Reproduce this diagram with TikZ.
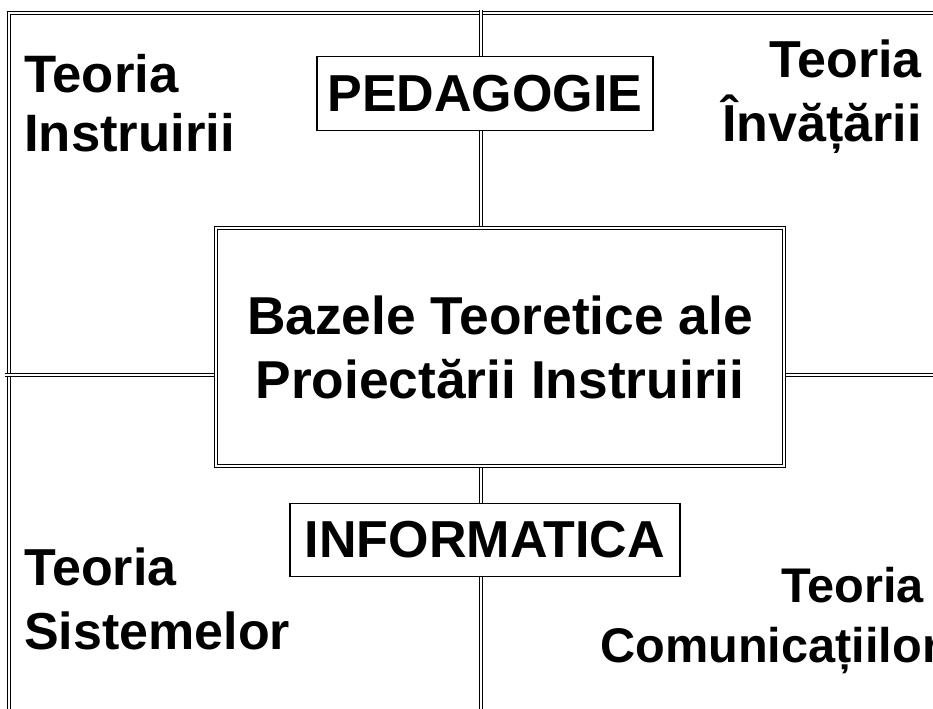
\documentclass[tikz,border=0pt]{standalone}
\usepackage{fontspec}
\setmainfont{Liberation Sans}
\usetikzlibrary{positioning,calc}

\begin{document}
\begin{tikzpicture}[x=0.75pt, y=-0.75pt,
    dbl/.style={draw, line width=0.8pt, double, double distance=1.2pt},
    big/.style={font=\fontsize{39}{47.5}\selectfont\bfseries},
    field/.style={big, draw, fill=white, line width=0.9pt, inner sep=0,
      minimum height=55pt},
    theory/.style={big, inner sep=0}]
  \clip (0,0) rectangle (933,708);
  % frame
  \coordinate (fnw) at (9,13);
  \coordinate (fse) at (960,730);
  \draw[dbl] (fnw) rectangle (fse);
  % centre box
  \node[dbl, font=\fontsize{40}{48}\selectfont\bfseries, align=center,
    minimum width=426pt, minimum height=178.5pt]
    (core) at (500,347) {Bazele Teoretice ale\\Proiectării Instruirii};
  % dividers
  \coordinate (top) at (481,10);
  \coordinate (bottom) at (481,730);
  \coordinate (left) at (5,375);
  \coordinate (right) at (960,375);
  \draw[dbl, shorten >=1.4pt] (top) -- (top |- core.north);
  \draw[dbl, shorten >=1.4pt] (bottom) -- (bottom |- core.south);
  \draw[dbl, shorten >=1.4pt] (left) -- (left -| core.west);
  \draw[dbl, shorten >=1.4pt] (right) -- (right -| core.east);
  % fields
  \node[field, minimum width=252pt] (ped) at (485,93.5) {PEDAGOGIE};
  \node[field, minimum width=292.5pt] (inf) at (485,540) {INFORMATICA};
  % theories
  \node[theory, font=\fontsize{39.5}{44}\selectfont\bfseries,
    anchor=north west, align=left] (instr) at (24,54) {Teoria\\Instruirii};
  \node[theory, anchor=north east, align=right] (inv) at (922,40)
    {Teoria\\Învățării};
  \node[theory, anchor=north west, align=left] (sist) at (24,548)
    {Teoria\\Sistemelor};
  \node[theory, font=\fontsize{36.5}{45}\selectfont\bfseries,
    anchor=north west, align=right] (com) at (600,567)
    {Teoria\hspace*{0.35em}\\Comunicațiilor};
\end{tikzpicture}
\end{document}
